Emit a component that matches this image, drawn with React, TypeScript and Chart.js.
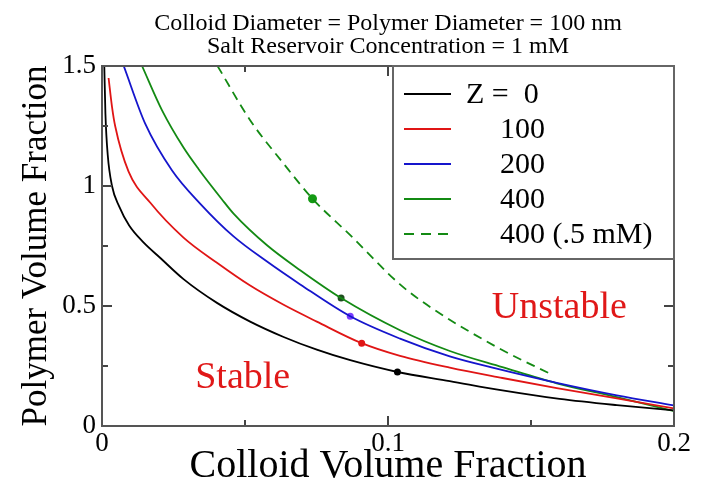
import { useEffect, useRef } from "react";
import { Chart, registerables } from "chart.js";

Chart.register(...registerables);

const titleLines = [
  "Colloid Diameter = Polymer Diameter = 100 nm",
  "Salt Reservoir Concentration = 1 mM",
];
const xAxisTitle = "Colloid Volume Fraction";
const yAxisTitle = "Polymer Volume Fraction";

const seriesLabels = ["Z =  0", "100", "200", "400", "400 (.5 mM)"];
const seriesColors = ["#000000", "#e01515", "#1515cc", "#138a13", "#138a13"];
const seriesDashed = [false, false, false, false, true];

const z0X = [0.0008, 0.0012, 0.002, 0.0035, 0.006, 0.0095, 0.0145, 0.0204, 0.0285, 0.0402, 0.0518, 0.0635, 0.0751, 0.0868, 0.1033, 0.1216, 0.14, 0.16, 0.18, 0.2];
const z0Y = [1.5, 1.3, 1.13, 1.0, 0.915, 0.835, 0.765, 0.7, 0.612, 0.513, 0.435, 0.371, 0.318, 0.274, 0.225, 0.187, 0.148, 0.113, 0.087, 0.065];

const z100X = [0.0023, 0.0035, 0.0046, 0.0093, 0.0169, 0.0285, 0.0402, 0.0518, 0.0635, 0.0751, 0.0908, 0.1042, 0.1216, 0.14, 0.159, 0.18, 0.2];
const z100Y = [1.45, 1.33, 1.25, 1.06, 0.93, 0.785, 0.68, 0.585, 0.505, 0.435, 0.345, 0.292, 0.243, 0.2, 0.158, 0.115, 0.073];

const z200X = [0.0076, 0.0151, 0.0245, 0.0343, 0.046, 0.0577, 0.0693, 0.0868, 0.1042, 0.1216, 0.138, 0.159, 0.18, 0.2];
const z200Y = [1.5, 1.26, 1.065, 0.927, 0.79, 0.685, 0.59, 0.457, 0.364, 0.29, 0.239, 0.18, 0.128, 0.086];

const z400X = [0.014, 0.021, 0.0285, 0.0338, 0.0419, 0.046, 0.0577, 0.0693, 0.0836, 0.1042, 0.1216, 0.14, 0.159, 0.18, 0.2];
const z400Y = [1.5, 1.315, 1.16, 1.07, 0.945, 0.885, 0.753, 0.649, 0.533, 0.399, 0.3125, 0.245, 0.178, 0.12, 0.062];

const z400HalfX = [0.0404, 0.0518, 0.0635, 0.0736, 0.0868, 0.1042, 0.1147, 0.138, 0.1578];
const z400HalfY = [1.5, 1.274, 1.093, 0.947, 0.795, 0.59, 0.496, 0.329, 0.211];

const seriesX = [z0X, z100X, z200X, z400X, z400HalfX];
const seriesY = [z0Y, z100Y, z200Y, z400Y, z400HalfY];

const criticalX = [0.1033, 0.0908, 0.0868, 0.0836, 0.0736];
const criticalY = [0.225, 0.345, 0.457, 0.533, 0.947];
const criticalColors = ["#000000", "#e01515", "#7a3cff", "#1f4f1f", "#139a13"];
const criticalRadius = [3.5, 3.5, 3.5, 3.5, 4.5];

const xTickValues = [0, 0.1, 0.2];
const xMinorTicks = [0.05, 0.15];
const yTickValues = [0, 0.5, 1, 1.5];
const yMinorTicks = [0.25, 0.75, 1.25];

const regionLabels = ["Stable", "Unstable"];
const regionX = [0.0326, 0.1363];
const regionY = [0.157, 0.449];

const SERIF = "'Liberation Serif', 'Times New Roman', serif";

const fmt = (v: number) => String(Math.round(v * 1000) / 1000);

const titlePlugin = {
  id: "twoLineTitle",
  afterDraw(chart: any) {
    const { ctx, chartArea } = chart;
    const cx = (chartArea.left + chartArea.right) / 2;
    ctx.save();
    ctx.fillStyle = "#000";
    ctx.font = `24px ${SERIF}`;
    ctx.textAlign = "center";
    ctx.textBaseline = "alphabetic";
    ctx.fillText(titleLines[0], cx, 30);
    ctx.fillText(titleLines[1], cx, 53);
    ctx.restore();
  },
};

const framePlugin = {
  id: "frameTicks",
  afterDatasetsDraw(chart: any) {
    const { ctx, chartArea, scales } = chart;
    const { left, right, top, bottom } = chartArea;
    const xs = scales.x;
    const ys = scales.y;
    ctx.save();
    ctx.strokeStyle = "#444";
    ctx.lineWidth = 2;
    const seg = (x1: number, y1: number, x2: number, y2: number) => {
      ctx.beginPath();
      ctx.moveTo(x1, y1);
      ctx.lineTo(x2, y2);
      ctx.stroke();
    };
    xTickValues.forEach((v) => {
      const px = xs.getPixelForValue(v);
      seg(px, bottom, px, bottom - 10);
      seg(px, top, px, top + 10);
    });
    xMinorTicks.forEach((v) => {
      const px = xs.getPixelForValue(v);
      seg(px, bottom, px, bottom - 6);
      seg(px, top, px, top + 6);
    });
    yTickValues.forEach((v) => {
      const py = ys.getPixelForValue(v);
      seg(left, py, left + 10, py);
      seg(right, py, right - 10, py);
    });
    yMinorTicks.forEach((v) => {
      const py = ys.getPixelForValue(v);
      seg(left, py, left + 6, py);
      seg(right, py, right - 6, py);
    });
    ctx.strokeStyle = "#555";
    ctx.strokeRect(left, top, right - left, bottom - top);
    ctx.restore();
  },
};

const regionPlugin = {
  id: "regionLabels",
  afterDatasetsDraw(chart: any) {
    const { ctx, scales } = chart;
    ctx.save();
    ctx.fillStyle = "#e01818";
    ctx.font = `38px ${SERIF}`;
    ctx.textAlign = "left";
    ctx.textBaseline = "alphabetic";
    regionLabels.forEach((t, i) => {
      ctx.fillText(t, scales.x.getPixelForValue(regionX[i]), scales.y.getPixelForValue(regionY[i]));
    });
    ctx.restore();
  },
};

const legendPlugin = {
  id: "boxLegend",
  afterDraw(chart: any) {
    const { ctx, chartArea } = chart;
    const boxRight = chartArea.right;
    const boxLeft = boxRight - 281;
    const boxTop = chartArea.top;
    const boxBottom = boxTop + 193;
    ctx.save();
    ctx.fillStyle = "#fff";
    ctx.fillRect(boxLeft, boxTop, boxRight - boxLeft, boxBottom - boxTop);
    ctx.strokeStyle = "#666";
    ctx.lineWidth = 2;
    ctx.strokeRect(boxLeft, boxTop, boxRight - boxLeft, boxBottom - boxTop);
    ctx.font = `30px ${SERIF}`;
    ctx.textBaseline = "middle";
    ctx.textAlign = "left";
    seriesLabels.forEach((label, i) => {
      const y = boxTop + 28 + 35 * i;
      ctx.strokeStyle = seriesColors[i];
      ctx.lineWidth = 2;
      ctx.setLineDash(seriesDashed[i] ? [10, 7] : []);
      ctx.beginPath();
      ctx.moveTo(boxLeft + 11, y);
      ctx.lineTo(boxLeft + 58, y);
      ctx.stroke();
      ctx.setLineDash([]);
      ctx.fillStyle = "#000";
      ctx.fillText(label, boxLeft + (i === 0 ? 73 : 107), y + 1);
    });
    ctx.restore();
  },
};

export default function App() {
  const canvasRef = useRef<HTMLCanvasElement | null>(null);

  useEffect(() => {
    if (!canvasRef.current) return;
    const datasets: any[] = seriesLabels.map((label, i) => ({
      label,
      data: seriesX[i].map((x, j) => ({ x, y: seriesY[i][j] })),
      showLine: true,
      borderColor: seriesColors[i],
      backgroundColor: seriesColors[i],
      borderWidth: 1.8,
      borderDash: seriesDashed[i] ? [9, 6] : [],
      pointRadius: 0,
      cubicInterpolationMode: "monotone",
    }));
    datasets.push({
      label: "critical points",
      data: criticalX.map((x, j) => ({ x, y: criticalY[j] })),
      showLine: false,
      pointRadius: criticalRadius,
      pointBackgroundColor: criticalColors,
      pointBorderColor: criticalColors,
      pointBorderWidth: 0,
    });

    const chart = new Chart(canvasRef.current, {
      type: "scatter",
      data: { datasets },
      options: {
        animation: false,
        responsive: false,
        events: [],
        layout: { padding: { top: 66, right: 36, left: 0, bottom: 0 } },
        plugins: {
          legend: { display: false },
          title: { display: false },
          tooltip: { enabled: false },
        },
        scales: {
          x: {
            type: "linear",
            min: 0,
            max: 0.2,
            afterFit: (s: any) => {
              s.height = 61;
            },
            afterBuildTicks: (s: any) => {
              s.ticks = xTickValues.map((v) => ({ value: v }));
            },
            grid: { display: false, drawTicks: false },
            border: { display: false },
            ticks: {
              padding: 2,
              color: "#000",
              font: { family: SERIF, size: 27 },
              maxRotation: 0,
              callback: (v: any) => fmt(Number(v)),
            },
            title: {
              display: true,
              text: xAxisTitle,
              color: "#000",
              font: { family: SERIF, size: 40, lineHeight: 1 },
              padding: { top: 0, bottom: 1 },
            },
          },
          y: {
            type: "linear",
            min: 0,
            max: 1.5,
            afterFit: (s: any) => {
              s.width = 102;
            },
            afterBuildTicks: (s: any) => {
              s.ticks = yTickValues.map((v) => ({ value: v }));
            },
            grid: { display: false, drawTicks: false },
            border: { display: false },
            ticks: {
              padding: 6,
              color: "#000",
              font: { family: SERIF, size: 27 },
              callback: (v: any) => fmt(Number(v)),
            },
            title: {
              display: true,
              text: yAxisTitle,
              color: "#000",
              font: { family: SERIF, size: 35, lineHeight: 1 },
              padding: { top: 19, bottom: 0 },
            },
          },
        },
      } as any,
      plugins: [framePlugin, regionPlugin, legendPlugin, titlePlugin],
    });
    return () => chart.destroy();
  }, []);

  return (
    <div style={{ position: "absolute", left: 0, top: 0, width: 710, height: 487, background: "#fff" }}>
      <canvas ref={canvasRef} width={710} height={487} style={{ display: "block" }} />
    </div>
  );
}
